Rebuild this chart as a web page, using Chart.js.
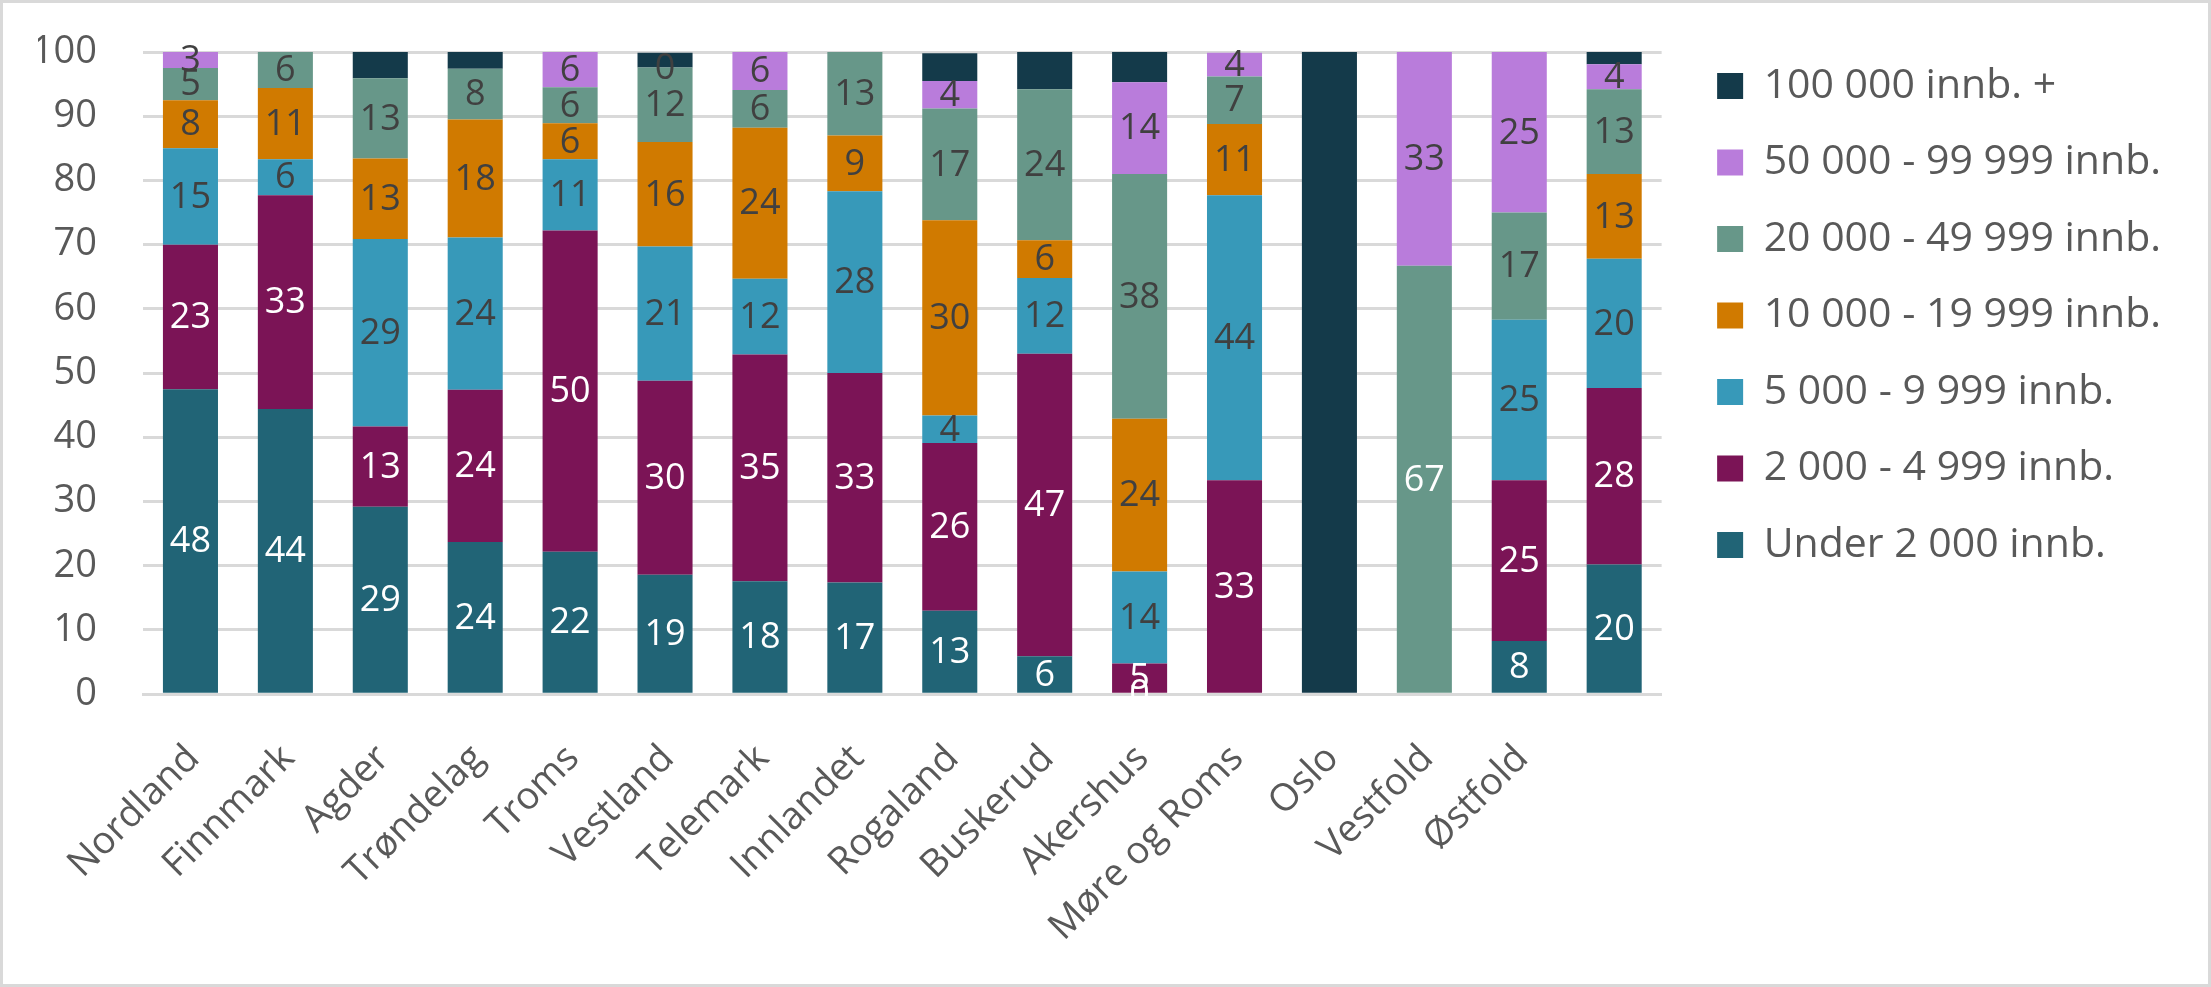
<!DOCTYPE html>
<html>
<head>
<meta charset="utf-8">
<script src="https://cdn.jsdelivr.net/npm/chart.js@4/dist/chart.umd.min.js"></script>
<style>
  html, body { margin: 0; padding: 0; background: #fff; }
  #wrap { width: 2211px; height: 987px; box-sizing: border-box; border: 3px solid #d9d9d9; position: relative; }
  #chart { display: block; }
</style>
</head>
<body>
<div id="wrap"><canvas id="chart"></canvas></div>
<script>
const categories = ['Nordland', 'Finnmark', 'Agder', 'Trøndelag', 'Troms', 'Vestland', 'Telemark', 'Innlandet',
  'Rogaland', 'Buskerud', 'Akershus', 'Møre og Roms', 'Oslo', 'Vestfold', 'Østfold', ''];

const seriesNames = ['Under 2 000 innb.', '2 000 - 4 999 innb.', '5 000 - 9 999 innb.', '10 000 - 19 999 innb.',
  '20 000 - 49 999 innb.', '50 000 - 99 999 innb.', '100 000 innb. +'];

const under2k   = [47.5, 44.4, 29.2, 23.7, 22.2, 18.6, 17.6, 17.4, 13.0, 5.9, 0, null, null, null, 8.3, 20.2];
const s2kTo5k   = [22.5, 33.3, 12.5, 23.7, 50.0, 30.2, 35.3, 32.6, 26.1, 47.1, 4.8, 33.3, null, null, 25.0, 27.5];
const s5kTo10k  = [15.0, 5.6, 29.2, 23.7, 11.1, 20.9, 11.8, 28.3, 4.3, 11.8, 14.3, 44.4, null, null, 25.0, 20.1];
const s10kTo20k = [7.5, 11.1, 12.5, 18.4, 5.6, 16.3, 23.5, 8.7, 30.4, 5.9, 23.8, 11.1, null, null, null, 13.2];
const s20kTo50k = [5.0, 5.6, 12.5, 7.9, 5.6, 11.6, 5.9, 13.0, 17.4, 23.5, 38.1, 7.4, null, 66.7, 16.7, 13.2];
const s50kTo100k = [2.5, null, null, null, 5.6, 0, 5.9, null, 4.3, null, 14.3, 3.7, null, 33.3, 25.0, 3.9];
const over100k  = [null, null, 4.2, 2.6, null, 2.3, null, null, 4.3, 5.9, 4.8, null, 100, null, null, 1.9];

const yTicks = [0, 10, 20, 30, 40, 50, 60, 70, 80, 90, 100];

const colors = ['#216476', '#7b1456', '#3799b9', '#d07a00', '#679789', '#b97cdb', '#143a4a'];
const DARK = '#404040';

// label colour per series (null = no labels on that series)
function labelColor(i, v) {
  if (i === 0 || i === 1) return '#ffffff';
  if (i === 4 && v > 50) return '#ffffff';
  if (i === 6) return null;
  return DARK;
}

const segmentLabels = {
  id: 'segmentLabels',
  afterDatasetsDraw(chart) {
    const ctx = chart.ctx;
    ctx.save();
    ctx.font = '36px "Open Sans"';
    ctx.textAlign = 'center';
    ctx.textBaseline = 'middle';
    chart.data.datasets.forEach((ds, i) => {
      const meta = chart.getDatasetMeta(i);
      meta.data.forEach((bar, j) => {
        const v = ds.data[j];
        if (v === null || v === undefined) return;
        const c = labelColor(i, v);
        if (!c) return;
        ctx.fillStyle = c;
        ctx.fillText(String(Math.round(v)), bar.x, (bar.y + bar.base) / 2 + 1);
      });
    });
    ctx.restore();
  }
};

// push the legend block a little away from the plot
const legendNudge = {
  id: 'legendNudge',
  afterLayout(chart) {
    const lg = chart.legend;
    if (!lg) return;
    lg.left += 20; lg.right += 20;
  }
};

const values = [under2k, s2kTo5k, s5kTo10k, s10kTo20k, s20kTo50k, s50kTo100k, over100k];

new Chart(document.getElementById('chart'), {
  type: 'bar',
  data: {
    labels: categories,
    datasets: values.map((d, i) => ({
      label: seriesNames[i],
      data: d,
      backgroundColor: colors[i],
      borderWidth: 0,
      categoryPercentage: 1,
      barPercentage: 0.58
    }))
  },
  options: {
    responsive: true,
    maintainAspectRatio: false,
    animation: false,
    devicePixelRatio: 1,
    layout: { padding: { left: 35, top: 27, right: 57, bottom: 0 } },
    plugins: {
      legend: {
        position: 'right',
        align: 'start',
        reverse: true,
        labels: {
          boxWidth: 26,
          boxHeight: 26,
          padding: 35.5,
          color: '#595959',
          font: { family: '"Open Sans"', size: 41 }
        }
      },
      tooltip: { enabled: false }
    },
    scales: {
      x: {
        stacked: true,
        grid: { display: false },
        border: { color: '#d9d9d9', width: 3 },
        afterFit: axis => { axis.paddingLeft = 0; axis.paddingRight = 0; },
        ticks: {
          autoSkip: false,
          maxRotation: 45,
          minRotation: 45,
          padding: 34,
          labelOffset: 3,
          color: '#595959',
          font: { family: '"Open Sans"', size: 38 }
        }
      },
      y: {
        stacked: true,
        min: 0,
        max: 100,
        afterBuildTicks: axis => { axis.ticks = yTicks.map(v => ({ value: v })); },
        afterFit: axis => { axis.width = 105; axis.paddingTop = 49; axis.paddingBottom = 0; },
        grid: { color: '#d9d9d9', lineWidth: 3, drawTicks: false },
        border: { display: false },
        ticks: {
          padding: 46,
          color: '#595959',
          font: { family: '"Open Sans"', size: 38 }
        }
      }
    }
  },
  plugins: [segmentLabels, legendNudge]
});
</script>
</body>
</html>
